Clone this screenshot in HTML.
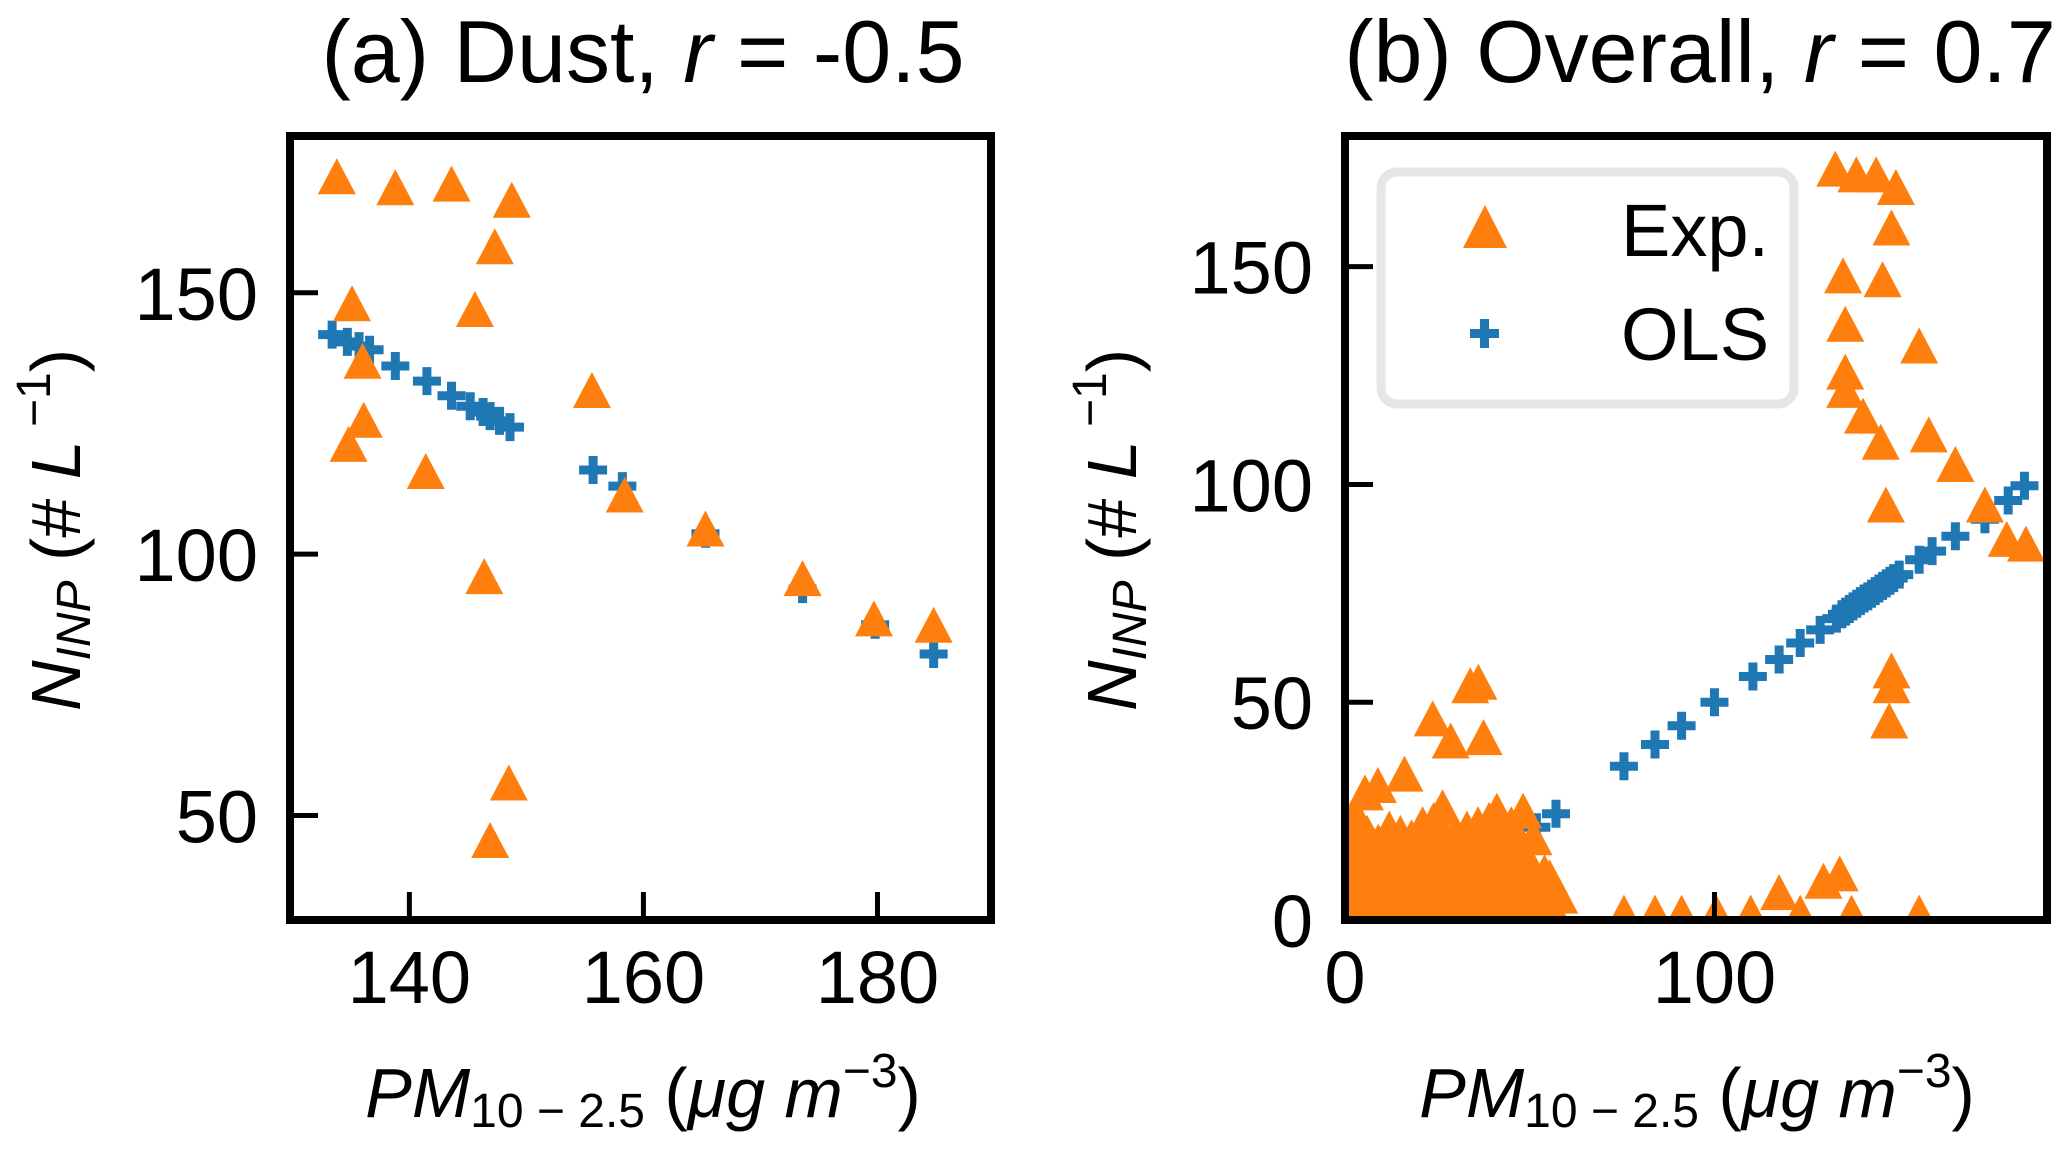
<!DOCTYPE html>
<html><head><meta charset="utf-8"><style>
html,body{margin:0;padding:0;background:#fff;}
svg{display:block;font-family:"Liberation Sans",Arial,sans-serif;}
</style></head><body>
<svg id="fig" width="2067" height="1150" viewBox="0 0 2067 1150" xmlns="http://www.w3.org/2000/svg">
<defs>
<clipPath id="clipA"><rect x="290" y="136" width="701" height="784"/></clipPath>
<clipPath id="clipB"><rect x="1345" y="136" width="702" height="784"/></clipPath>
</defs>
<rect width="2067" height="1150" fill="#fff"/>
<g id="plotA" clip-path="url(#clipA)"></g>
<g id="plotB" clip-path="url(#clipB)"></g>
<g id="axesA"></g>
<g id="axesB"></g>

<text x="643" y="82" font-size="88" text-anchor="middle">(a) Dust, <tspan font-style="italic">r</tspan> = -0.5</text>
<text x="1700" y="82" font-size="88" text-anchor="middle">(b) Overall, <tspan font-style="italic">r</tspan> = 0.7</text>

<text x="643" y="1117" font-size="70" text-anchor="middle"><tspan font-style="italic">PM</tspan><tspan font-size="48" dy="10">10 − 2.5</tspan><tspan dy="-10"> (</tspan><tspan font-style="italic">μg m</tspan><tspan font-size="48" dy="-30">−3</tspan><tspan dy="30">)</tspan></text>
<text x="1697" y="1117" font-size="70" text-anchor="middle"><tspan font-style="italic">PM</tspan><tspan font-size="48" dy="10">10 − 2.5</tspan><tspan dy="-10"> (</tspan><tspan font-style="italic">μg m</tspan><tspan font-size="48" dy="-30">−3</tspan><tspan dy="30">)</tspan></text>

<text transform="translate(80,530) rotate(-90)" font-size="70" text-anchor="middle"><tspan font-style="italic">N</tspan><tspan font-style="italic" font-size="48" dy="10">INP</tspan><tspan dy="-10"> (# </tspan><tspan font-style="italic">L</tspan><tspan font-size="48" dy="-30"> −1</tspan><tspan dy="30">)</tspan></text>
<text transform="translate(1136,530) rotate(-90)" font-size="70" text-anchor="middle"><tspan font-style="italic">N</tspan><tspan font-style="italic" font-size="48" dy="10">INP</tspan><tspan dy="-10"> (# </tspan><tspan font-style="italic">L</tspan><tspan font-size="48" dy="-30"> −1</tspan><tspan dy="30">)</tspan></text>

<g>
<rect x="1381" y="172" width="413" height="232" rx="16" fill="#fff" fill-opacity="0.85" stroke="#e6e6e6" stroke-width="9"/>
<polygon points="1485,205 1463,248 1507,248" fill="#ff7f0e"/>
<text x="1621" y="256" font-size="74">Exp.</text>
<path d="M1480,319h9v10h10v9h-10v10h-9v-10h-10v-9h10z" fill="#1f77b4"/>
<text x="1621" y="360" font-size="74">OLS</text>
</g>
</svg>
<script>
// Panel (a) Dust
const expXA = [133.8,138.8,143.6,148.75,147.3,135.1,145.6,136.0,136.1,134.8,141.4,155.6,158.4,165.3,173.6,179.7,184.8,146.4,148.5,146.9];
const expYA = [172.3,170.2,170.9,167.8,158.9,148.0,146.9,137.0,125.7,121.1,115.9,131.4,111.4,104.9,95.4,87.7,86.5,95.8,56.3,45.3];
const olsXA = [133.4,134.7,135.7,136.6,138.8,141.5,143.6,145.2,146.3,146.9,147.7,148.6,155.7,158.2,165.3,173.6,179.8,184.8];
const olsYA = [142.0,140.6,139.8,139.1,136.0,133.1,130.3,128.3,127.2,126.4,125.5,124.3,116.1,113.0,103.9,93.3,86.5,80.9];
const xTicksA = [140,160,180];
const yTicksA = [50,100,150];
// Panel (b) Overall
const expXB = [132.7,138.4,143.75,149.1,147.9,134.8,145.5,135.4,155.4,135.4,135.4,140.2,145.0,158.0,165.2,146.4,173.2,179.1,184.3,147.9,147.9,147.3,
 75.5,83.9,91.1,100.5,109.8,117.5,123.2,129.5,133.9,137.1,155.4,
 5.4,8.9,16.1,23.75,28.6,33.9,36.1,37.5,26.4,41.1,48.2,55.4,58.0,45.0,51.0,
 1,3,5,7,9,11,13,15,17,19,21,23,25,27,29,31,33,35,37,39,41,43,45,47,49,51,53,55,
 2,4,6,8,10,12,14,16,18,20,22,24,26,28,30,32,34,36,38,40,42,44,46,48,50,52,
 1,4,7,10,13,16,19,22,25,28,31,34,37,40,43,
 2,6,12,18,24,30,36,42,3,9,15,21,27,33,39,45,
 1,3,5,7,9,11,13,15,17,19,21,23,25,27,29,31,33,35,37,39,41,43,45,47,49,51,53,
 2,5,8,11,14,17,20,23,26,29,32,35,38,41,44,47,50,
 56,57,54,1,4,8,12,16,20,24,28,32,36,40,44,48];
const expYB = [172.5,171.2,171.2,168.3,159.0,148.0,147.1,136.9,131.9,125.9,121.7,115.8,109.8,111.5,104.7,95.4,95.4,87.5,86.4,57.3,53.9,45.8,
 1.7,1.7,1.7,1.7,1.7,6.4,1.7,9.0,10.7,1.7,1.7,
 29.3,31.0,33.6,46.3,41.2,53.9,54.7,42.0,25.9,25.1,25.1,9.8,5.6,22.0,19.0,
 2,1,3,2,1,3,2,1,2,3,1,2,3,1,2,2,1,3,2,1,2,3,1,2,2,3,1,4,
 8,9,7,10,8,9,10,7,9,8,10,9,8,11,9,10,8,9,10,11,9,10,12,9,11,8,
 15,14,17,15,16,14,18,16,15,17,16,18,17,16,19,
 22,20,21,19,23,20,22,21,24,18,20,22,19,21,23,20,
 5,6,5,4,6,5,6,5,4,6,5,5,6,4,5,6,5,4,6,5,5,6,5,5,6,5,6,
 12,13,12,13,12,13,12,13,12,12,13,12,13,14,13,12,13,
 3,7,11,17,18,17,18,17,18,17,18,17,18,17,18,16];
const olsXB = [20,26,32,38,44.6,51.8,57.1,75.5,83.9,91.1,100,110.4,117.5,123.2,128.6,133,134.5,135.5,136.5,137.5,138.5,139.5,140.5,141.5,142.5,143.5,144.5,145.5,146.5,147.5,148.5,150,155.4,158.9,165.2,173.2,179.5,183.9];
const olsYB = [2.5,6.0,9.5,13.1,17.0,21.3,24.4,35.3,40.3,44.6,50.0,55.9,59.8,63.6,66.6,69.2,70.2,70.8,71.4,72.0,72.6,73.2,73.8,74.3,74.9,75.5,76.1,76.7,77.3,77.9,78.5,79.3,82.7,84.7,88.1,92.0,96.3,99.7];
const xTicksB = [0,100];
const yTicksB = [0,50,100,150];

const NS = "http://www.w3.org/2000/svg";
const A = {x0:290,x1:991,y0:920,y1:136,xmin:129.8,xmax:189.7,ymin:30,ymax:180};
const B = {x0:1345,x1:2047,y0:920,y1:136,xmin:0,xmax:190,ymin:0,ymax:180};
function sx(ax,v){return ax.x0+(v-ax.xmin)/(ax.xmax-ax.xmin)*(ax.x1-ax.x0);}
function sy(ax,v){return ax.y0-(v-ax.ymin)/(ax.ymax-ax.ymin)*(ax.y0-ax.y1);}
function mk(tag,attrs,parent){const e=document.createElementNS(NS,tag);for(const k in attrs)e.setAttribute(k,attrs[k]);parent.appendChild(e);return e;}

function drawPlus(g,cx,cy,name){
  const h=14,t=4.5;
  const e=mk('path',{d:`M${cx-t},${cy-h}h${2*t}v${h-t}h${h-t}v${2*t}h${-(h-t)}v${h-t}h${-2*t}v${-(h-t)}h${-(h-t)}v${-2*t}h${h-t}z`,fill:'#1f77b4'},g);
  
  
}
function drawTri(g,cx,cy,name){
  const w=19,h=18;
  const e=mk('polygon',{points:`${cx},${cy-h} ${cx-w},${cy+h} ${cx+w},${cy+h}`,fill:'#ff7f0e'},g);
  
  
}
function drawPanel(ax,plotId,axesId,ex,ey,ox,oy,xt,yt,prefix){
  const pg=document.getElementById(plotId), ag=document.getElementById(axesId);
  for(let i=0;i<ox.length;i++) drawPlus(pg,sx(ax,ox[i]),sy(ax,oy[i]),prefix+'-ols-point');
  for(let i=0;i<ex.length;i++) drawTri(pg,sx(ax,ex[i]),sy(ax,ey[i]),prefix+'-exp-point');
  xt.forEach(v=>{
    const x=sx(ax,v);
    const t=mk('line',{x1:x,x2:x,y1:ax.y0,y2:ax.y0-28,stroke:'#000','stroke-width':5},ag);
    
    
    const l=mk('text',{x:x,y:1003,'font-size':74,'text-anchor':'middle'},ag);
    l.textContent=v;
    
    
  });
  yt.forEach(v=>{
    const y=sy(ax,v);
    const t=mk('line',{x1:ax.x0,x2:ax.x0+28,y1:y,y2:y,stroke:'#000','stroke-width':5},ag);
    
    
    const l=mk('text',{x:ax.x0-32,y:y+27,'font-size':74,'text-anchor':'end'},ag);
    l.textContent=v;
    
    
  });
  const fr=mk('rect',{x:ax.x0,y:ax.y1,width:ax.x1-ax.x0,height:ax.y0-ax.y1,fill:'none',stroke:'#000','stroke-width':8},ag);
  
  
}
drawPanel(A,'plotA','axesA',expXA,expYA,olsXA,olsYA,xTicksA,yTicksA,'panel-a');
drawPanel(B,'plotB','axesB',expXB,expYB,olsXB,olsYB,xTicksB,yTicksB,'panel-b');
</script>
</body></html>
